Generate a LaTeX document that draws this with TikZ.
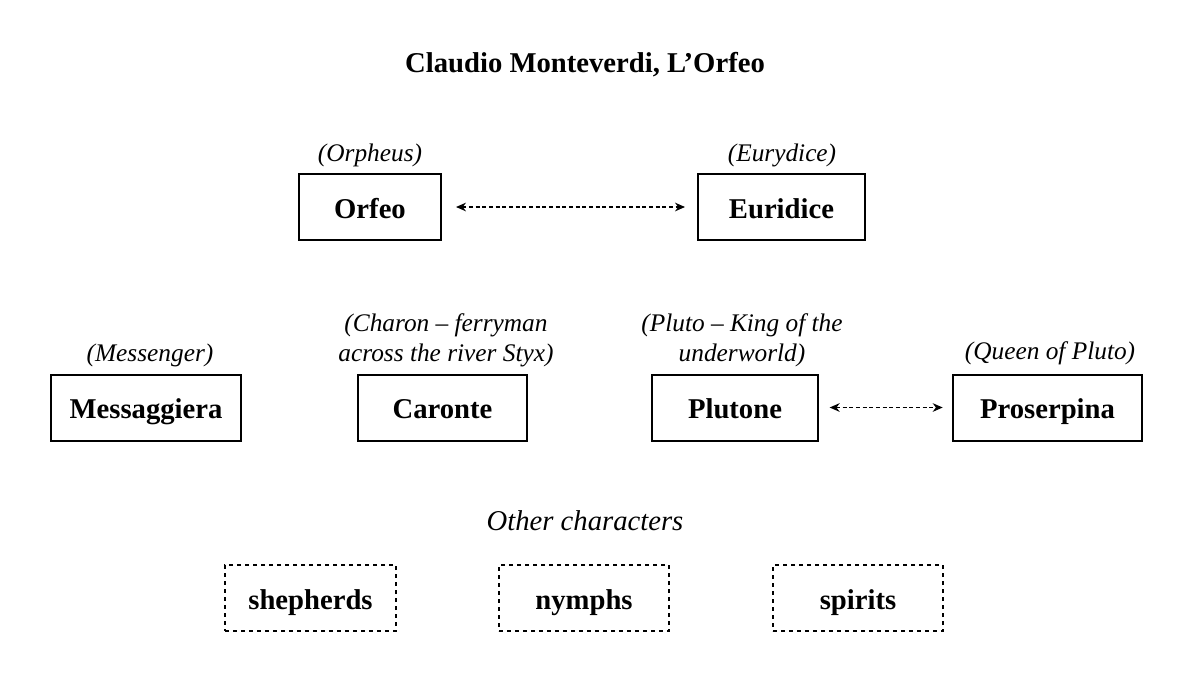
\documentclass[tikz,border=0pt]{standalone}
\usepackage{fontspec}
\setmainfont{Liberation Serif}
\usetikzlibrary{arrows.meta}
\begin{document}
\begin{tikzpicture}[x=0.75pt,y=-0.75pt,
  charbox/.style={draw,line width=1.5pt,minimum width=#1*0.75pt,minimum height=66*0.75pt,inner sep=0pt,text height=18pt,text depth=1.5pt,font=\fontsize{21.5}{25}\selectfont\bfseries},
  otherbox/.style={charbox=#1,dash pattern=on 3pt off 3pt},
  lbl/.style={font=\fontsize{19}{22.5}\selectfont\itshape,align=center},
  link/.style={line width=1pt,dash pattern=on 3pt off 2pt,{Stealth[length=7.5pt,width=6.5pt]}-{Stealth[length=7.5pt,width=6.5pt]}}]
\useasboundingbox (0,0) rectangle (1194,697);
\node[font=\fontsize{21.5}{25}\selectfont\bfseries] (title) at (585,65) {Claudio Monteverdi, L’Orfeo};
\node[charbox=142] (orfeo) at (370,207) {Orfeo};
\node[charbox=167] (euridice) at (781.5,207) {Euridice};
\node[lbl] (lorfeo) at (370,155) {(Orpheus)};
\node[lbl] (leuridice) at (782,155) {(Eurydice)};
\draw[link,shorten <=10.5pt,shorten >=9pt] (orfeo) -- (euridice);
\node[charbox=190] (mess) at (146,407.5) {Messaggiera};
\node[charbox=169] (caronte) at (442.5,407.5) {Caronte};
\node[charbox=166] (plutone) at (735,407.5) {Plutone};
\node[charbox=189] (pros) at (1047.5,407.5) {Proserpina};
\node[lbl] (lmess) at (150,355) {(Messenger)};
\node[lbl] (lcaronte) at (446,340) {(Charon – ferryman\\across the river Styx)};
\node[lbl] (lplutone) at (742,340) {(Pluto – King of the\\underworld)};
\node[lbl] (lpros) at (1050,353) {(Queen of Pluto)};
\draw[link,shorten <=8pt,shorten >=7pt] (plutone) -- (pros);
\node[font=\fontsize{21.5}{25}\selectfont\itshape] (other) at (585,521) {Other characters};
\node[otherbox=171] (shep) at (310.5,598) {shepherds};
\node[otherbox=170] (nymphs) at (584,598) {nymphs};
\node[otherbox=170] (spirits) at (858,598) {spirits};
\end{tikzpicture}
\end{document}
